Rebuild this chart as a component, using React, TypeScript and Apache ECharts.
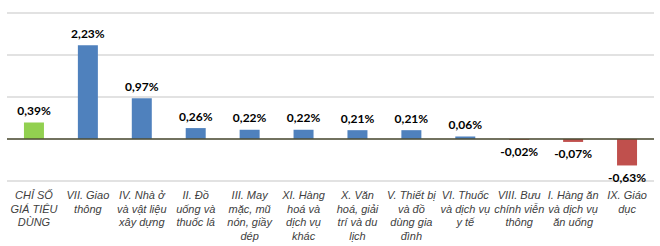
import React, { useEffect, useRef } from "react";
import * as echarts from "echarts";

const categories = [
  "CHỈ SỐ\nGIÁ TIÊU\nDÙNG",
  "VII. Giao\nthông",
  "IV. Nhà ở\nvà vật liệu\nxây dựng",
  "II. Đồ\nuống và\nthuốc lá",
  "III. May\nmặc, mũ\nnón, giầy\ndép",
  "XI. Hàng\nhoá và\ndịch vụ\nkhác",
  "X. Văn\nhoá, giải\ntrí và du\nlịch",
  "V. Thiết bị\nvà đồ\ndùng gia\nđình",
  "VI. Thuốc\nvà dịch vụ\ny tế",
  "VIII. Bưu\nchính viễn\nthông",
  "I. Hàng ăn\nvà dịch vụ\năn uống",
  "IX. Giáo\ndục",
];
const values = [0.39, 2.23, 0.97, 0.26, 0.22, 0.22, 0.21, 0.21, 0.06, -0.02, -0.07, -0.63];
const colors = ["#92D050", "#4F81BD", "#4F81BD", "#4F81BD", "#4F81BD", "#4F81BD", "#4F81BD", "#4F81BD", "#4F81BD", "#C0504D", "#C0504D", "#C0504D"];

export default function App() {
  const ref = useRef<HTMLDivElement>(null);
  useEffect(() => {
    if (!ref.current) return;
    const chart = echarts.init(ref.current, undefined, { renderer: "svg" });
    chart.setOption({
      animation: false,
      grid: { left: 7, right: 6, top: 13, bottom: 65 },
      xAxis: {
        type: "category",
        data: categories,
        axisLine: { show: false, onZero: false },
        axisTick: { show: false },
        axisLabel: {
          interval: 0,
          margin: 7,
          color: "#404040",
          fontFamily: "Liberation Sans",
          fontStyle: "italic",
          fontSize: 11,
          lineHeight: 13.7,
          verticalAlign: "top",
        },
      },
      yAxis: {
        type: "value",
        min: -1,
        max: 3,
        interval: 1,
        axisLabel: { show: false },
        axisLine: { show: false },
        axisTick: { show: false },
        splitLine: { lineStyle: { color: "#D9D9D9", width: 1.5 } },
      },
      series: [
        {
          type: "bar",
          barWidth: 20,
          data: values.map((v, i) => ({
            value: v,
            itemStyle: { color: colors[i] },
            label: { position: v >= 0 ? "top" : "bottom" },
          })),
          label: {
            show: true,
            distance: 6,
            color: "#000",
            fontFamily: "Lato",
            fontWeight: "bold",
            fontSize: 12,
            formatter: (p: any) => p.value.toFixed(2).replace(".", ",") + "%",
          },
          markLine: {
            silent: true,
            symbol: "none",
            label: { show: false },
            lineStyle: { color: "#4D4D33", width: 1.5, type: "solid" },
            data: [{ yAxis: 0 }],
          },
        },
      ],
    });
    return () => chart.dispose();
  }, []);
  return (
    <div
      ref={ref}
      style={{ position: "fixed", left: 0, top: 0, width: 660, height: 246, background: "#fff" }}
    />
  );
}
